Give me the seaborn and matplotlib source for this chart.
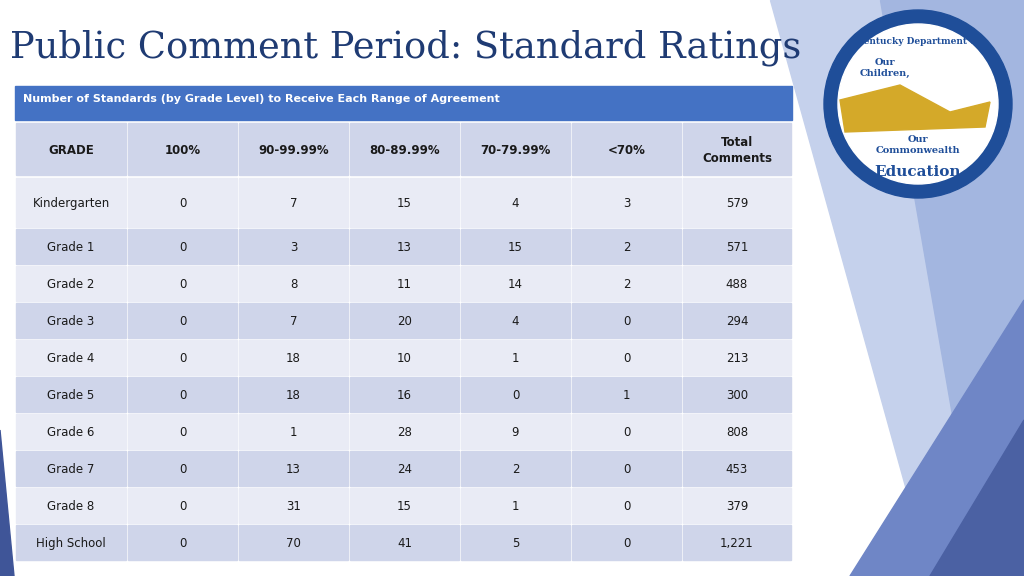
import matplotlib
matplotlib.use("Agg")
import matplotlib.pyplot as plt
from matplotlib.patches import Rectangle, Polygon, Circle
import seaborn as sns

sns.set_theme(style="white")

title = "Public Comment Period: Standard Ratings"
subtitle = "Number of Standards (by Grade Level) to Receive Each Range of Agreement"
columns = ["GRADE", "100%", "90-99.99%", "80-89.99%", "70-79.99%", "<70%", "Total\nComments"]
grades = ["Kindergarten", "Grade 1", "Grade 2", "Grade 3", "Grade 4", "Grade 5",
          "Grade 6", "Grade 7", "Grade 8", "High School"]
pct_100 = [0, 0, 0, 0, 0, 0, 0, 0, 0, 0]
pct_90 = [7, 3, 8, 7, 18, 18, 1, 13, 31, 70]
pct_80 = [15, 13, 11, 20, 10, 16, 28, 24, 15, 41]
pct_70 = [4, 15, 14, 4, 1, 0, 9, 2, 1, 5]
pct_lt70 = [3, 2, 2, 0, 0, 1, 0, 0, 0, 0]
total_comments = ["579", "571", "488", "294", "213", "300", "808", "453", "379", "1,221"]

fig = plt.figure(figsize=(10.24, 5.76), dpi=100)
ax = fig.add_axes([0, 0, 1, 1])
ax.set_xlim(0, 1024)
ax.set_ylim(576, 0)
ax.axis("off")

# decorative background shapes on the right
ax.add_patch(Polygon([(770, 0), (1024, 0), (1024, 576), (930, 576)], color="#c5d1ec", zorder=0))
ax.add_patch(Polygon([(880, 0), (1024, 0), (1024, 576), (980, 576)], color="#a3b6e0", zorder=0))
ax.add_patch(Polygon([(850, 576), (1024, 300), (1024, 576)], color="#6f86c6", zorder=0))
ax.add_patch(Polygon([(930, 576), (1024, 420), (1024, 576)], color="#4b61a3", zorder=0))
ax.add_patch(Polygon([(0, 430), (14, 576), (0, 576)], color="#3f5598", zorder=0))

# logo
ax.add_patch(Circle((918, 104), 94, color="#1f4e99", zorder=1))
ax.add_patch(Circle((918, 104), 80, color="white", zorder=1))
ax.text(918, 42, "Kentucky Department of", ha="center", va="center", fontsize=6.5,
        color="#1f4e99", fontweight="bold", family="DejaVu Serif", zorder=2)
ax.text(885, 68, "Our\nChildren,", ha="center", va="center", fontsize=7, color="#1f4e99",
        fontweight="bold", family="DejaVu Serif", zorder=2)
ax.add_patch(Polygon([(840, 100), (900, 85), (950, 112), (990, 102), (985, 127), (845, 132)],
                     color="#d4a929", zorder=2))
ax.text(918, 145, "Our\nCommonwealth", ha="center", va="center", fontsize=7, color="#1f4e99",
        fontweight="bold", family="DejaVu Serif", zorder=2)
ax.text(918, 172, "Education", ha="center", va="center", fontsize=11, color="#1f4e99",
        fontweight="bold", family="DejaVu Serif", zorder=2)

ax.text(10, 48, title, ha="left", va="center", fontsize=26.5, color="#1f3b73",
        family="DejaVu Serif", zorder=3)

# subtitle bar
ax.add_patch(Rectangle((15, 86), 777, 34, color="#4472c4", zorder=2))
ax.text(23, 99, subtitle, ha="left", va="center", fontsize=8, color="white",
        fontweight="bold", zorder=3)

col_edges = [15, 127, 238, 349, 460, 571, 682, 792]
row_edges = [(123, 175), (178, 227), (229, 264)] + [(266 + 37 * i, 301 + 37 * i) for i in range(8)]
dark, light = "#cfd5ea", "#e9ebf5"

rows = [columns] + [[g, str(a), str(b), str(c), str(d), str(e), t] for g, a, b, c, d, e, t in
                    zip(grades, pct_100, pct_90, pct_80, pct_70, pct_lt70, total_comments)]

for r, (y0, y1) in enumerate(row_edges):
    fc = dark if r % 2 == 0 else light
    for c in range(7):
        x0, x1 = col_edges[c], col_edges[c + 1]
        ax.add_patch(Rectangle((x0 + 1, y0), x1 - x0 - 2, y1 - y0, color=fc, zorder=2))
        ax.text((x0 + x1) / 2, (y0 + y1) / 2 + 1, rows[r][c], ha="center", va="center",
                fontsize=8.5, color="#1a1a1a", fontweight="bold" if r == 0 else "normal",
                linespacing=1.3, zorder=3)

fig.savefig("out.png", dpi=100)
